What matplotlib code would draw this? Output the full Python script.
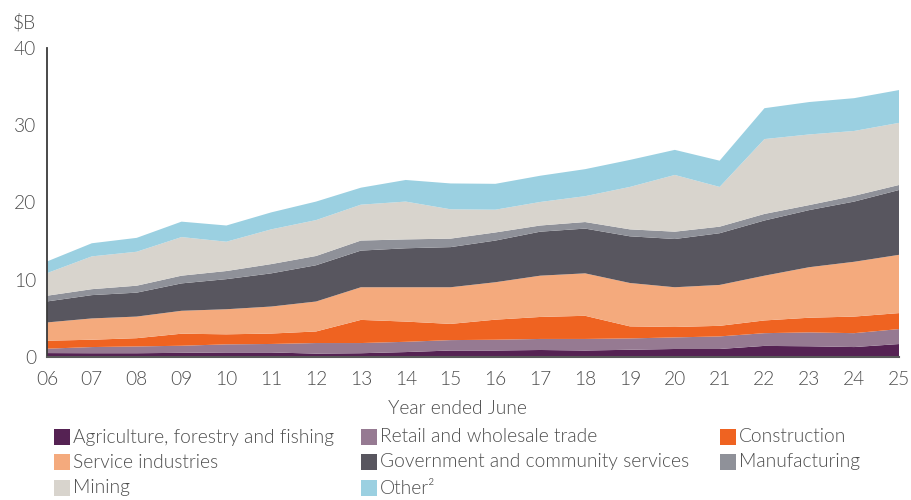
import matplotlib
matplotlib.use("Agg")
import matplotlib.pyplot as plt
from matplotlib.patches import Rectangle

plt.rcParams["font.family"] = ["Lato", "DejaVu Sans"]

# Year ended June (two-digit labels)
years = list(range(6, 26))
year_labels = [f"{y:02d}" for y in years]

# Values by industry, $B
agriculture = [0.47, 0.45, 0.45, 0.50, 0.55, 0.55, 0.40, 0.45, 0.60, 0.80,
               0.80, 0.87, 0.80, 0.90, 1.00, 1.00, 1.40, 1.35, 1.25, 1.64]
retail = [0.57, 0.80, 0.88, 0.92, 1.05, 1.10, 1.37, 1.32, 1.33, 1.35,
          1.40, 1.43, 1.50, 1.47, 1.50, 1.63, 1.65, 1.80, 1.80, 1.94]
construction = [1.03, 0.95, 1.07, 1.56, 1.30, 1.35, 1.50, 3.00, 2.62, 2.10,
                2.60, 2.85, 3.00, 1.56, 1.35, 1.37, 1.65, 1.90, 2.15, 2.07]
services = [2.37, 2.76, 2.80, 2.97, 3.25, 3.50, 3.88, 4.23, 4.45, 4.75,
            4.85, 5.35, 5.50, 5.62, 5.15, 5.30, 5.80, 6.55, 7.10, 7.55]
government = [2.72, 3.02, 3.10, 3.55, 3.90, 4.30, 4.70, 4.75, 5.05, 5.20,
              5.40, 5.70, 5.80, 6.05, 6.25, 6.70, 7.15, 7.40, 7.80, 8.40]
manufacturing = [0.74, 0.77, 0.90, 1.00, 1.05, 1.20, 1.20, 1.30, 1.15, 1.10,
                 1.05, 0.80, 0.85, 0.90, 0.95, 0.85, 0.85, 0.65, 0.75, 0.65]
mining = [2.93, 4.25, 4.40, 5.00, 3.80, 4.50, 4.65, 4.65, 4.90, 3.80,
          2.95, 3.05, 3.35, 5.50, 7.35, 5.15, 9.70, 9.15, 8.40, 8.05]
other = [1.51, 1.70, 1.80, 2.00, 2.10, 2.20, 2.40, 2.20, 2.80, 3.35,
         3.35, 3.40, 3.50, 3.50, 3.25, 3.40, 4.00, 4.20, 4.25, 4.25]

series = [agriculture, retail, construction, services, government,
          manufacturing, mining, other]
names = ["Agriculture, forestry and fishing", "Retail and wholesale trade",
         "Construction", "Service industries",
         "Government and community services", "Manufacturing",
         "Mining", "Other\u00b2"]
colors = ["#552253", "#967a92", "#ef6321", "#f4aa7d",
          "#58565f", "#8f9199", "#d8d4cd", "#9bd0e1"]

text_color = "#4d4d4d"
font_w = 300
font_size = 13.8
W, H = 912, 500

fig = plt.figure(figsize=(W / 100, H / 100), dpi=100)
ax = fig.add_axes([47 / W, 143.3 / H, 852 / W, 308.7 / H])

ax.stackplot(years, *series, colors=colors, linewidth=0)

ax.set_xlim(6, 25)
ax.set_ylim(0, 40)
ax.set_xticks(years)
ax.set_xticklabels(year_labels)
ax.set_yticks([0, 10, 20, 30, 40])
ax.tick_params(axis="both", length=0, labelsize=font_size,
               labelcolor=text_color)
ax.tick_params(axis="y", pad=8)
ax.tick_params(axis="x", pad=10)
for lab in ax.get_xticklabels() + ax.get_yticklabels():
    lab.set_fontweight(font_w)

for side in ["top", "right"]:
    ax.spines[side].set_visible(False)
ax.spines["left"].set_color("#3a3a3a")
ax.spines["left"].set_linewidth(1.3)
ax.spines["bottom"].set_color("#5a5a5a")
ax.spines["bottom"].set_linewidth(1.5)

fig.text(13 / W, 1 - 22 / H, "\\$B", fontsize=font_size, color=text_color,
         fontweight=font_w, ha="left", va="center")
fig.text(457 / W, 1 - 409 / H, "Year ended June", fontsize=font_size,
         color=text_color, fontweight=font_w, ha="center", va="center")

# Legend laid out row by row in three columns
col_x = [54, 361, 720]
row_y = [437, 462, 488]
for i, (name, col) in enumerate(zip(names, colors)):
    r, c = divmod(i, 3)
    x0, yc = col_x[c], row_y[r]
    fig.patches.append(Rectangle((x0 / W, 1 - (yc + 8) / H), 16 / W, 16 / H,
                                 transform=fig.transFigure, facecolor=col,
                                 edgecolor="none"))
    fig.text((x0 + 19) / W, 1 - yc / H, name, fontsize=font_size,
             color=text_color, fontweight=font_w, ha="left", va="center")

fig.savefig("out.png", dpi=100)
